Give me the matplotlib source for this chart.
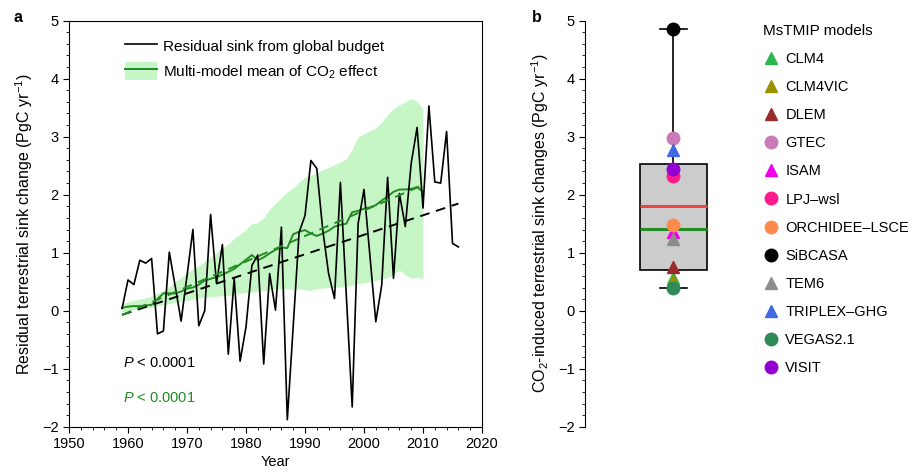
import numpy as np
import matplotlib
matplotlib.use("Agg")
import matplotlib.pyplot as plt
from matplotlib.lines import Line2D
from matplotlib.patches import Patch
from matplotlib.ticker import MultipleLocator

plt.rcParams["font.family"] = ["Liberation Sans", "DejaVu Sans"]
plt.rcParams["mathtext.fontset"] = "custom"
plt.rcParams["mathtext.rm"] = "Liberation Sans"
plt.rcParams["mathtext.it"] = "Liberation Sans:italic"

# residual land sink from the global budget, 1959-2016
resid_years = np.arange(1959, 2017)
resid_sink = [
    0.04, 0.53, 0.45, 0.87, 0.82, 0.90, -0.40, -0.35, 1.01, 0.42,
    -0.18, 0.60, 1.40, -0.26, 0.00, 1.66, 0.47, 1.14, -0.75, 0.55,
    -0.87, -0.28, 0.78, 0.96, -0.92, 0.64, 0.01, 1.44, -1.88, -0.27,
    1.35, 1.64, 2.59, 2.45, 1.40, 0.64, 0.21, 2.21, 0.27, -1.66,
    1.50, 2.09, 0.95, -0.19, 0.44, 2.30, 0.56, 2.02, 1.45, 2.54,
    3.16, 1.77, 3.53, 2.22, 2.20, 3.09, 1.16, 1.10,
]

# multi-model mean CO2 effect and its spread, 1959-2010
model_years = np.arange(1959, 2011)
co2_mean = [
    0.05, 0.07, 0.08, 0.08, 0.09, 0.10, 0.20, 0.30, 0.30, 0.30,
    0.33, 0.38, 0.40, 0.45, 0.52, 0.55, 0.58, 0.62, 0.67, 0.72,
    0.80, 0.88, 0.96, 0.87, 0.92, 0.99, 1.05, 1.09, 1.08, 1.32,
    1.36, 1.39, 1.33, 1.29, 1.33, 1.38, 1.45, 1.48, 1.50, 1.70,
    1.72, 1.76, 1.78, 1.82, 1.90, 1.97, 2.05, 2.09, 2.09, 2.10,
    2.13, 2.05,
]
co2_upper = [
    0.12, 0.15, 0.18, 0.20, 0.22, 0.25, 0.30, 0.35, 0.42, 0.50,
    0.57, 0.65, 0.72, 0.78, 0.85, 0.92, 1.00, 1.08, 1.15, 1.25,
    1.32, 1.40, 1.50, 1.52, 1.60, 1.75, 1.85, 1.95, 2.05, 2.12,
    2.22, 2.30, 2.33, 2.38, 2.43, 2.47, 2.52, 2.56, 2.62, 2.78,
    3.00, 3.05, 3.10, 3.15, 3.25, 3.38, 3.48, 3.55, 3.60, 3.66,
    3.60, 3.48,
]
co2_lower = [
    -0.02, 0.00, 0.02, 0.03, 0.05, 0.06, 0.08, 0.10, 0.12, 0.14,
    0.16, 0.18, 0.20, 0.22, 0.23, 0.24, 0.25, 0.26, 0.26, 0.28,
    0.30, 0.31, 0.32, 0.33, 0.35, 0.37, 0.38, 0.38, 0.38, 0.37,
    0.38, 0.36, 0.35, 0.38, 0.39, 0.40, 0.40, 0.41, 0.42, 0.44,
    0.47, 0.48, 0.50, 0.52, 0.55, 0.57, 0.62, 0.70, 0.62, 0.56,
    0.58, 0.55,
]

# panel b: CO2-induced sink change per MsTMIP model
models = ["CLM4", "CLM4VIC", "DLEM", "GTEC", "ISAM", "LPJ\u2013wsl",
          "ORCHIDEE\u2013LSCE", "SiBCASA", "TEM6", "TRIPLEX\u2013GHG",
          "VEGAS2.1", "VISIT"]
model_values = [0.57, 0.52, 0.75, 2.97, 1.35, 2.33, 1.48, 4.86, 1.24, 2.77, 0.40, 2.44]
model_markers = ["^", "^", "^", "o", "^", "o", "o", "o", "^", "^", "o", "o"]
model_colors = ["#2db84d", "#9a9000", "#9a2b2b", "#c97ab8", "#ee00ee", "#ff1a8c",
                "#ff8a4c", "#000000", "#8c8c8c", "#4169e1", "#2e8b57", "#9400d3"]

fig = plt.figure(figsize=(9.16, 4.72), dpi=100)
ax_a = fig.add_axes([69 / 916, 45.3 / 472, 413 / 916, 406 / 472])
ax_b = fig.add_axes([585 / 916, 45.3 / 472, 176 / 916, 406 / 472])

green = "#228b22"

# panel a
ax_a.fill_between(model_years, co2_lower, co2_upper, color="#c6f5c6", linewidth=0)
ax_a.plot(model_years, co2_mean, color=green, lw=1.4)
ax_a.plot(resid_years, resid_sink, color="black", lw=1.2)

k_res = np.polyfit(resid_years, resid_sink, 1)
ax_a.plot(resid_years, np.polyval(k_res, resid_years), color="black", lw=1.4,
          ls=(0, (5, 3.5)))
k_mod = np.polyfit(model_years, co2_mean, 1)
ax_a.plot(model_years, np.polyval(k_mod, model_years), color=green, lw=1.4,
          ls=(0, (5, 3.5)))

ax_a.set_xlim(1950, 2020)
ax_a.set_ylim(-2, 5)
ax_a.xaxis.set_major_locator(MultipleLocator(10))
ax_a.xaxis.set_minor_locator(MultipleLocator(2))
ax_a.yaxis.set_major_locator(MultipleLocator(1))
ax_a.yaxis.set_minor_locator(MultipleLocator(0.2))
ax_a.tick_params(which="both", direction="out", labelsize=10.5)
ax_a.tick_params(which="major", length=4)
ax_a.tick_params(which="minor", length=2.5)
ax_a.set_xlabel("Year", fontsize=10.5, labelpad=3)
ax_a.set_ylabel("Residual terrestrial sink change (PgC yr$^{-1}$)", fontsize=11.5, labelpad=5)

handles = [Line2D([], [], color="black", lw=1.2),
           (Patch(facecolor="#c6f5c6", edgecolor="none"), Line2D([], [], color=green, lw=1.4))]
ax_a.legend(handles, ["Residual sink from global budget", "Multi-model mean of CO$_2$ effect"],
            loc="upper left", bbox_to_anchor=(0.103, 0.993), frameon=False, fontsize=11,
            handlelength=2.1, handleheight=1.45, labelspacing=0.45, handletextpad=0.4)

ax_a.text(0.13, 0.148, "$P$ < 0.0001", transform=ax_a.transAxes, fontsize=10.5, color="black")
ax_a.text(0.13, 0.062, "$P$ < 0.0001", transform=ax_a.transAxes, fontsize=10.5, color=green)

# panel b
ax_b.boxplot([model_values], positions=[0.88], widths=0.67, patch_artist=True,
             showmeans=True, meanline=True, showfliers=False, capwidths=0.27,
             boxprops=dict(facecolor="#cccccc", edgecolor="black", linewidth=1.2),
             medianprops=dict(color=green, lw=2.2),
             meanprops=dict(color="#ee4444", lw=2.2, ls="-"),
             whiskerprops=dict(color="black", lw=1.2),
             capprops=dict(color="black", lw=1.2))
for val, mk, col in zip(model_values, model_markers, model_colors):
    ax_b.plot(0.88, val, marker=mk, color=col, ms=9, ls="none", zorder=5)

ax_b.set_xlim(0, 1.76)
ax_b.set_ylim(-2, 5)
ax_b.yaxis.set_major_locator(MultipleLocator(1))
ax_b.yaxis.set_minor_locator(MultipleLocator(0.2))
ax_b.set_xticks([])
for side in ["top", "right", "bottom"]:
    ax_b.spines[side].set_visible(False)
ax_b.tick_params(which="both", direction="out", labelsize=10.5)
ax_b.tick_params(which="major", length=4)
ax_b.tick_params(which="minor", length=2.5)
ax_b.set_ylabel("CO$_2$-induced terrestrial sink changes (PgC yr$^{-1}$)", fontsize=11.5, labelpad=5)

leg_handles = [Line2D([], [], marker=mk, color=col, ls="none", ms=9)
               for mk, col in zip(model_markers, model_colors)]
ax_b.legend(leg_handles, models, title="MsTMIP models", loc="upper left",
            bbox_to_anchor=(0.935, 1.025), frameon=False, fontsize=10.5, title_fontsize=11,
            alignment="left", labelspacing=0.97, handletextpad=0.35, handlelength=1.2)

fig.text(13 / 916, 1 - 17 / 472, "a", fontsize=11.5, fontweight="bold", va="center")
fig.text(532 / 916, 1 - 17 / 472, "b", fontsize=11.5, fontweight="bold", va="center")

fig.savefig("out.png", dpi=100)
